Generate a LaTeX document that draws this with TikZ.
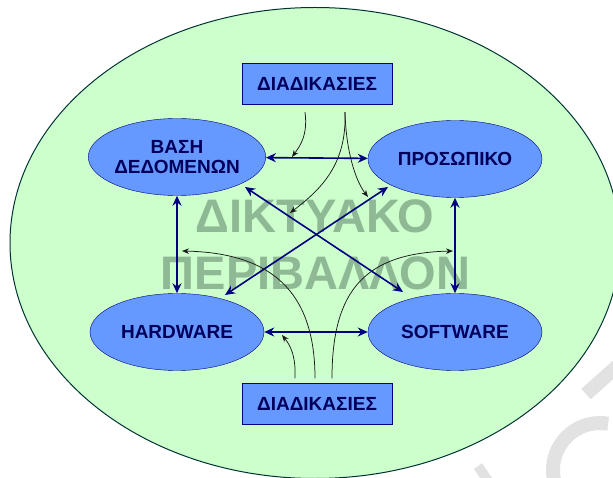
\documentclass[tikz,border=0pt]{standalone}
\usepackage{fontspec}
\setmainfont{Liberation Sans}
\usetikzlibrary{shapes.geometric,arrows.meta}

\definecolor{envfill}{RGB}{204,255,204}
\definecolor{envline}{RGB}{0,51,51}
\definecolor{nodefill}{RGB}{102,153,255}
\definecolor{navyline}{RGB}{0,0,128}
\definecolor{navytext}{RGB}{0,0,90}
\definecolor{backgray}{RGB}{143,184,148}
\definecolor{stampgray}{RGB}{226,226,226}

\begin{document}
\begin{tikzpicture}[
    x=1pt, y=-1pt,
    >={Stealth[length=10pt,width=9pt]},
    link/.style={<->, draw=navyline, line width=1.6pt},
    hint/.style={-{Stealth[length=7pt,width=5.5pt]}, draw=black!90, line width=0.75pt},
    sysnode/.style={
        draw=navyline,
        ellipse,
        fill=nodefill,
        minimum width=174pt,
        minimum height=77pt,
        inner sep=0pt,
        align=center,
        text=navytext,
        font=\fontsize{19}{20}\selectfont\bfseries
    },
    procbox/.style={
        draw=navyline,
        rectangle,
        fill=nodefill,
        minimum width=150pt,
        minimum height=41pt,
        text=navytext,
        font=\fontsize{19}{20}\selectfont\bfseries
    },
    backtext/.style={
        text=backgray,
        inner sep=0pt,
        font=\fontsize{47}{50}\selectfont\bfseries
    }
]

    \useasboundingbox (0,0) rectangle (613,478);
    \clip (0,0) rectangle (613,478);

    % Stamp behind the page
    \draw[stampgray, line width=14pt] (600,470) ++(-80:47) arc[start angle=-80, end angle=-200, radius=47];
    \draw[stampgray, line width=14pt] (586,394) -- (622,362);
    \draw[stampgray, line width=10pt] (478,466) -- (490,484);

    % Environment
    \node[draw=envline, fill=envfill, ellipse, line width=1pt,
          minimum width=610pt, minimum height=471pt, inner sep=0pt] (env) at (315,243) {};
    \node[backtext] (word1) at (315,216.5) {ΔΙΚΤΥΑΚΟ};
    \node[backtext] (word2) at (315.5,273.5) {ΠΕΡΙΒΑΛΛΟΝ};

    % Nodes
    \node[sysnode] (base) at (177,157) {ΒΑΣΗ\\ΔΕΔΟΜΕΝΩΝ};
    \node[sysnode] (staff) at (455,159) {ΠΡΟΣΩΠΙΚΟ};
    \node[sysnode] (hw) at (177,332) {HARDWARE};
    \node[sysnode] (sw) at (455,332) {SOFTWARE};
    \node[procbox] (tasktop) at (317,83.5) {ΔΙΑΔΙΚΑΣΙΕΣ};
    \node[procbox] (taskbot) at (317,404) {ΔΙΑΔΙΚΑΣΙΕΣ};

    % Arrows
    \draw[link] (base) -- (staff);
    \draw[link] (hw) -- (sw);
    \draw[link] (base) -- (hw);
    \draw[link] (staff) -- (sw);
    \draw[link] ([shift={(68,30)}]base.center) -- ([shift={(-52,-40)}]sw.center);
    \draw[link] ([shift={(-67,28)}]staff.center) -- ([shift={(48,-37)}]hw.center);

    % Hints from the procedures
    \coordinate (h1) at (292,157);
    \coordinate (h2) at (290,213);
    \coordinate (h3) at (368,197);
    \coordinate (h4) at (282,335);
    \coordinate (h5) at (182,251);
    \coordinate (h6) at (453,251);

    \draw[hint] ([xshift=-12pt,yshift=-8pt]tasktop.south) .. controls +(3,23) and +(8,-11) .. (h1);
    \draw[hint] ([xshift=28pt,yshift=-8pt]tasktop.south) .. controls +(2,53) and +(30,-23) .. (h2);
    \draw[hint] ([xshift=28pt,yshift=-8pt]tasktop.south) .. controls +(1,38) and +(-13,-17) .. (h3);
    \draw[hint] ([xshift=-22pt,yshift=5pt]taskbot.north) .. controls +(1,-23) and +(8,10) .. (h4);
    \draw[hint] ([xshift=-2pt,yshift=5pt]taskbot.north) .. controls +(0,-88) and +(88,2) .. (h5);
    \draw[hint] ([xshift=15pt,yshift=5pt]taskbot.north) .. controls +(0,-88) and +(-88,2) .. (h6);

\end{tikzpicture}
\end{document}
